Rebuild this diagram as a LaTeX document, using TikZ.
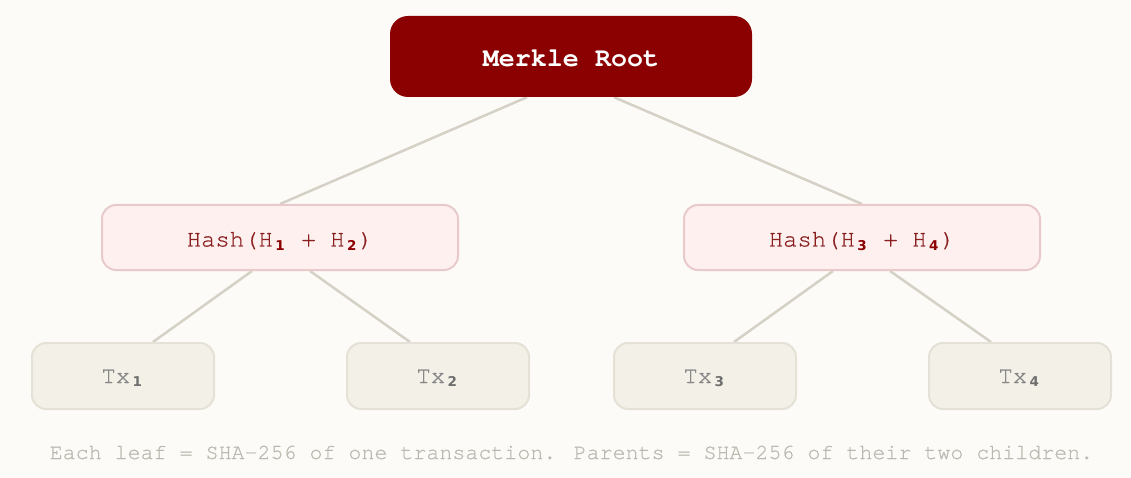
\documentclass[tikz,border=0pt]{standalone}
\usepackage{fontspec}
\setmonofont{TeX Gyre Cursor}
\newfontfamily\mreg{TeX Gyre Cursor}[FakeBold=0.6]
\newfontfamily\subf{DejaVu Sans}
\usetikzlibrary{calc,backgrounds}
\definecolor{bgc}{HTML}{FCFBF7}
\definecolor{rootc}{HTML}{8B0000}
\definecolor{midfill}{HTML}{FFF0F0}
\definecolor{midline}{HTML}{E8CACA}
\definecolor{midtext}{HTML}{8B2020}
\definecolor{leaffill}{HTML}{F3F0E7}
\definecolor{leafline}{HTML}{E6E1D6}
\definecolor{leaftext}{HTML}{888888}
\definecolor{leafsub}{HTML}{6E6E6E}
\definecolor{linkc}{HTML}{D5D1C6}
\definecolor{footc}{HTML}{BBB8B0}
\newcommand{\sbs}[2]{\makebox[0.6em][l]{\hspace{2.5pt}\raisebox{-3.5pt}{\subf\bfseries\fontsize{13.5}{13.5}\selectfont\color{#1}#2}}}
\begin{document}
\begin{tikzpicture}[x=1pt,y=-1pt,
  rootbox/.style={draw=none,fill=rootc,rounded corners=18pt,minimum width=362pt,minimum height=81pt,inner sep=0pt,
    text height=20.4pt,text depth=0pt,
    text=white,font=\fontsize{26.7}{30}\selectfont\ttfamily\bfseries},
  midbox/.style={draw=midline,line width=2pt,fill=midfill,rounded corners=14pt,minimum width=356pt,minimum height=65pt,inner sep=0pt,
    text height=18pt,text depth=0pt,
    text=midtext,font=\fontsize{23.9}{26}\selectfont\mreg},
  leafbox/.style={draw=leafline,line width=2pt,fill=leaffill,rounded corners=14pt,minimum width=182pt,minimum height=66pt,inner sep=0pt,
    text height=14pt,text depth=0pt,
    text=leaftext,font=\fontsize{23.9}{26}\selectfont\mreg},
  link/.style={draw=linkc,line width=2.5pt},
  foot/.style={text=footc,font=\fontsize{21.65}{26}\selectfont\mreg,inner sep=0pt,anchor=base}]
\useasboundingbox (0,0) rectangle (1131,478);
\node[rootbox] (root) at (571,56.5) {Merkle Root};
\node[midbox] (m1) at (280,237.5) {Hash(H\sbs{rootc}{1} + H\sbs{rootc}{2})};
\node[midbox] (m2) at (862,237.5) {Hash(H\sbs{rootc}{3} + H\sbs{rootc}{4})};
\node[leafbox] (t1) at (123,376) {Tx\sbs{leafsub}{1}};
\node[leafbox] (t2) at (438,376) {Tx\sbs{leafsub}{2}};
\node[leafbox] (t3) at (705,376) {Tx\sbs{leafsub}{3}};
\node[leafbox] (t4) at (1020,376) {Tx\sbs{leafsub}{4}};
\node[foot] (ft) at (571.5,459) {Each leaf = SHA-256 of one transaction. Parents = SHA-256 of their two children.};
\begin{pgfonlayer}{background}
\fill[bgc] (0,0) rectangle (1131,478);
\draw[link] ($(root.south)+(-44,0)$) -- (m1.north);
\draw[link] ($(root.south)+(43,0)$) -- (m2.north);
\draw[link] ($(m1.south)+(-28,0)$) -- ($(t1.north)+(30,0)$);
\draw[link] ($(m1.south)+(30,0)$) -- ($(t2.north)+(-28,0)$);
\draw[link] ($(m2.south)+(-29,0)$) -- ($(t3.north)+(29,0)$);
\draw[link] ($(m2.south)+(28,0)$) -- ($(t4.north)+(-29,0)$);
\end{pgfonlayer}
\end{tikzpicture}
\end{document}
